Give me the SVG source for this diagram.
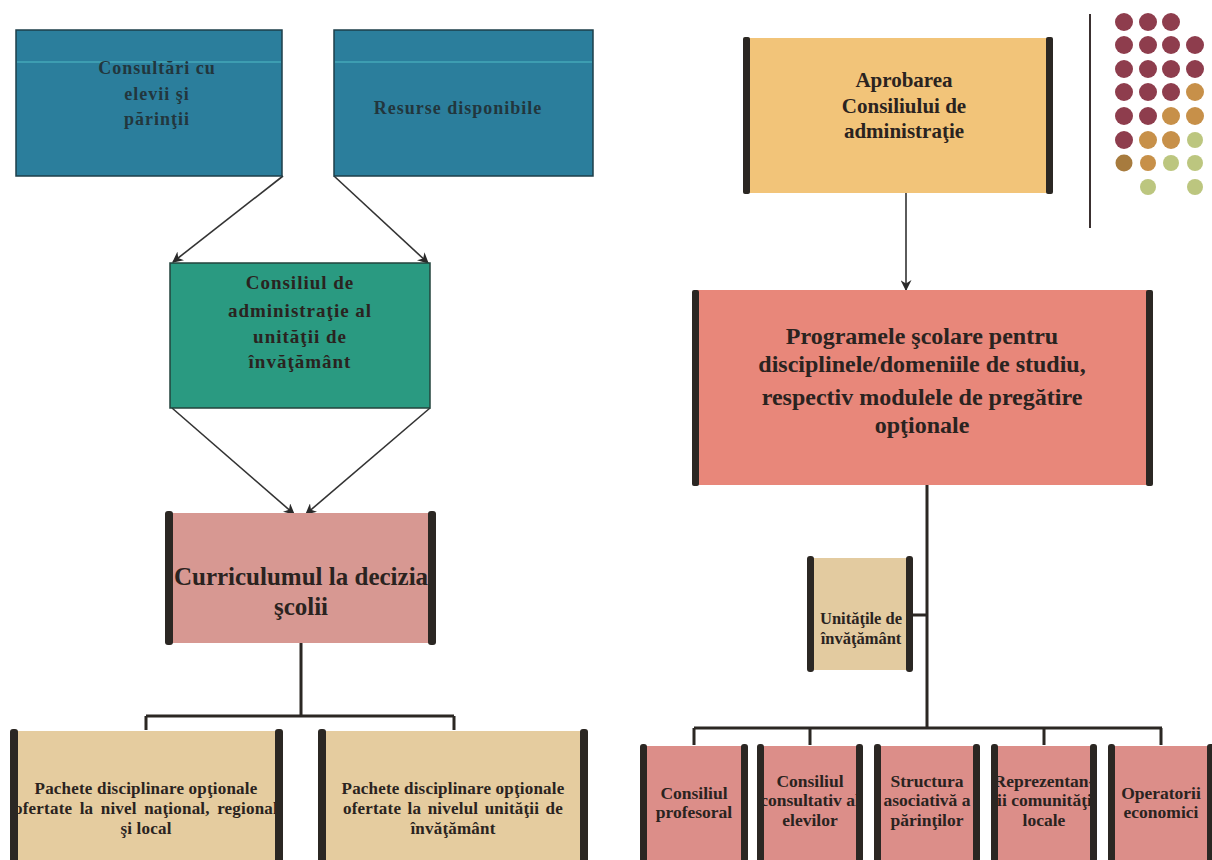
<svg xmlns="http://www.w3.org/2000/svg" width="1212" height="860" viewBox="0 0 1212 860">
<defs>
<marker id="ah" viewBox="0 0 10 10" refX="9" refY="5" markerWidth="11" markerHeight="11" markerUnits="userSpaceOnUse" orient="auto">
<path d="M0,0 L10,5 L0,10 L3,5 Z" fill="#2a2a2a"/>
</marker>
<style>
text{font-family:"Liberation Serif","DejaVu Serif",serif;font-weight:bold;text-anchor:middle;fill:#2a2320}
.bar{fill:#2b2723}
.arrow{stroke:#333;stroke-width:1.6;fill:none;marker-end:url(#ah)}
.tree{stroke:#2b2723;stroke-width:3;fill:none}
.blue{fill:#2b7e9c;stroke:#1e3f4a;stroke-width:1.5}
.blue-t{fill:#22363d;font-size:18px;letter-spacing:1px}
.beige{fill:#e5cc9f}
.pink{fill:#dc8e89}
.bt{font-size:17px;letter-spacing:0.2px}
.rt{font-size:17.5px}
.dm{fill:#8e3d4d}.dg{fill:#c79049}.dl{fill:#bcc67f}.db{fill:#a77b3e}
</style>
</defs>
<rect width="1212" height="860" fill="#ffffff"/>

<g id="connectors">
<line class="arrow" x1="283" y1="176" x2="173" y2="262"/>
<line class="arrow" x1="334" y1="176" x2="428" y2="263"/>
<line class="arrow" x1="172" y1="408" x2="294" y2="514"/>
<line class="arrow" x1="430" y1="408" x2="306" y2="514"/>
<line class="arrow" x1="906" y1="193" x2="906" y2="290"/>
<path class="tree" d="M301,643 V716 M146,716 H454 M146,716 V730 M454,716 V730"/>
<path class="tree" d="M927,485 V728 M913,615 H927 M694,728 H1162 M694,728 V745 M810,728 V745 M1044,728 V745 M1161,728 V745"/>
</g>

<g id="n-consultari">
<rect class="blue" x="16" y="30" width="266" height="146"/>
<line x1="17" y1="62" x2="281" y2="62" stroke="#45a8b8" stroke-width="1.5"/>
<text class="blue-t" x="157" y="74">Consultări  cu</text>
<text class="blue-t" x="157" y="100">elevii şi</text>
<text class="blue-t" x="157" y="125">părinţii</text>
</g>

<g id="n-resurse">
<rect class="blue" x="334" y="30" width="259" height="146"/>
<line x1="335" y1="62" x2="592" y2="62" stroke="#45a8b8" stroke-width="1.5"/>
<text class="blue-t" x="458" y="114">Resurse disponibile</text>
</g>

<g id="n-consiliul-adm">
<rect x="170" y="263" width="260" height="145" fill="#2a9a81" stroke="#23433c" stroke-width="1.5"/>
<text x="300" y="289" font-size="19" letter-spacing="1">Consiliul de</text>
<text x="300" y="317" font-size="19" letter-spacing="1">administraţie  al</text>
<text x="300" y="343" font-size="19" letter-spacing="1">unităţii de</text>
<text x="300" y="368" font-size="19" letter-spacing="1">învăţământ</text>
</g>

<g id="n-curriculum">
<rect x="170" y="513" width="262" height="130" fill="#d79892"/>
<text x="301" y="585" font-size="25">Curriculumul la decizia</text>
<text x="301" y="615" font-size="25">şcolii</text>
<rect class="bar" x="165" y="511" width="8" height="134" rx="3"/>
<rect class="bar" x="428" y="511" width="8" height="134" rx="3"/>
</g>

<g id="n-pachete-nat">
<rect class="beige" x="14" y="731" width="265" height="129"/>
<text class="bt" x="146" y="794">Pachete disciplinare opţionale</text>
<text class="bt" x="146" y="814" word-spacing="3">ofertate la nivel naţional, regional</text>
<text class="bt" x="146" y="834">şi local</text>
<rect class="bar" x="10" y="729" width="8" height="135" rx="3"/>
<rect class="bar" x="275" y="729" width="8" height="135" rx="3"/>
</g>

<g id="n-pachete-unit">
<rect class="beige" x="322" y="731" width="262" height="129"/>
<text class="bt" x="453" y="794">Pachete disciplinare opţionale</text>
<text class="bt" x="453" y="814" word-spacing="2">ofertate la nivelul unităţii de</text>
<text class="bt" x="453" y="834">învăţământ</text>
<rect class="bar" x="318" y="729" width="8" height="135" rx="3"/>
<rect class="bar" x="580" y="729" width="8" height="135" rx="3"/>
</g>

<g id="n-aprobarea">
<rect x="746" y="38" width="303" height="155" fill="#f2c479"/>
<text x="904" y="87" font-size="21">Aprobarea</text>
<text x="904" y="113" font-size="21">Consiliului  de</text>
<text x="904" y="138" font-size="21">administraţie</text>
<rect class="bar" x="743" y="37" width="7" height="157" rx="2"/>
<rect class="bar" x="1046" y="37" width="7" height="157" rx="2"/>
</g>

<g id="n-programele">
<rect x="696" y="290" width="453" height="195" fill="#e8877a"/>
<text x="922" y="344" font-size="24">Programele şcolare pentru</text>
<text x="922" y="372" font-size="24">disciplinele/domeniile de studiu,</text>
<text x="922" y="405" font-size="24">respectiv modulele de pregătire</text>
<text x="922" y="433" font-size="24">opţionale</text>
<rect class="bar" x="692" y="290" width="7" height="196" rx="2"/>
<rect class="bar" x="1146" y="290" width="7" height="196" rx="2"/>
</g>

<g id="n-unitatile">
<rect x="810" y="558" width="100" height="112" fill="#e3cba0"/>
<text x="861" y="624" font-size="16.5">Unităţile de</text>
<text x="861" y="644" font-size="16.5">învăţământ</text>
<rect class="bar" x="807" y="556" width="7" height="116" rx="3"/>
<rect class="bar" x="906" y="556" width="7" height="116" rx="3"/>
</g>

<g id="n-consiliul-prof">
<rect class="pink" x="645" y="746" width="98" height="114"/>
<text class="rt" x="694" y="799">Consiliul</text>
<text class="rt" x="694" y="818">profesoral</text>
<rect class="bar" x="640" y="744" width="7" height="118" rx="3"/>
<rect class="bar" x="741" y="744" width="7" height="118" rx="3"/>
</g>

<g id="n-consiliul-elevi">
<rect class="pink" x="762" y="746" width="96" height="114"/>
<text class="rt" x="810" y="787">Consiliul</text>
<text class="rt" x="810" y="806">consultativ al</text>
<text class="rt" x="810" y="826">elevilor</text>
<rect class="bar" x="757" y="744" width="7" height="118" rx="3"/>
<rect class="bar" x="856" y="744" width="7" height="118" rx="3"/>
</g>

<g id="n-structura">
<rect class="pink" x="879" y="746" width="96" height="114"/>
<text class="rt" x="927" y="787">Structura</text>
<text class="rt" x="927" y="806">asociativă a</text>
<text class="rt" x="927" y="826">părinţilor</text>
<rect class="bar" x="874" y="744" width="7" height="118" rx="3"/>
<rect class="bar" x="973" y="744" width="7" height="118" rx="3"/>
</g>

<g id="n-reprezentantii">
<rect class="pink" x="996" y="746" width="96" height="114"/>
<text class="rt" x="1044" y="787">Reprezentan-</text>
<text class="rt" x="1044" y="806">ţii comunităţii</text>
<text class="rt" x="1044" y="826">locale</text>
<rect class="bar" x="991" y="744" width="7" height="118" rx="3"/>
<rect class="bar" x="1090" y="744" width="7" height="118" rx="3"/>
</g>

<g id="n-operatorii">
<rect class="pink" x="1113" y="746" width="96" height="114"/>
<text class="rt" x="1161" y="799">Operatorii</text>
<text class="rt" x="1161" y="818">economici</text>
<rect class="bar" x="1108" y="744" width="7" height="118" rx="3"/>
<rect class="bar" x="1207" y="744" width="7" height="118" rx="3"/>
</g>

<g id="decoration">
<line x1="1090" y1="14" x2="1090" y2="228" stroke="#3a3030" stroke-width="2"/>
<circle class="dm" cx="1124" cy="22" r="9"/><circle class="dm" cx="1148" cy="22" r="9"/><circle class="dm" cx="1171" cy="22" r="9"/>
<circle class="dm" cx="1124" cy="45" r="9"/><circle class="dm" cx="1148" cy="45" r="9"/><circle class="dm" cx="1171" cy="45" r="9"/><circle class="dm" cx="1195" cy="45" r="9"/>
<circle class="dm" cx="1124" cy="69" r="9"/><circle class="dm" cx="1148" cy="69" r="9"/><circle class="dm" cx="1171" cy="69" r="9"/><circle class="dm" cx="1195" cy="69" r="9"/>
<circle class="dm" cx="1124" cy="92" r="9"/><circle class="dm" cx="1148" cy="92" r="9"/><circle class="dm" cx="1171" cy="92" r="9"/><circle class="dg" cx="1195" cy="92" r="9"/>
<circle class="dm" cx="1124" cy="116" r="9"/><circle class="dm" cx="1148" cy="116" r="9"/><circle class="dg" cx="1171" cy="116" r="9"/><circle class="dg" cx="1195" cy="116" r="9"/>
<circle class="dm" cx="1124" cy="140" r="9"/><circle class="dg" cx="1148" cy="140" r="9"/><circle class="dg" cx="1171" cy="140" r="9"/><circle class="dl" cx="1195" cy="140" r="8"/>
<circle class="db" cx="1124" cy="163" r="8.5"/><circle class="dg" cx="1148" cy="163" r="8"/><circle class="dl" cx="1171" cy="163" r="8"/><circle class="dl" cx="1195" cy="163" r="8"/>
<circle class="dl" cx="1148" cy="187" r="8"/><circle class="dl" cx="1195" cy="187" r="8"/>
</g>
</svg>
